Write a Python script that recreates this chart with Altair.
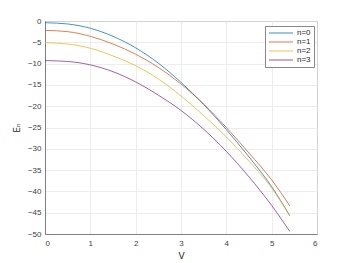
import altair as alt
import pandas as pd

V = [0.0, 0.5, 1.0, 1.5, 2.0, 2.5, 3.0, 3.5, 4.0, 4.5, 5.0, 5.4]
E0 = [-0.4, -0.7, -1.7, -3.6, -6.3, -9.9, -14.4, -19.6, -25.5, -31.9, -38.9, -45.7]
E1 = [-2.2, -2.5, -3.6, -5.4, -7.8, -10.9, -14.8, -19.5, -25.0, -31.0, -37.3, -43.4]
E2 = [-5.1, -5.4, -6.4, -8.2, -10.5, -13.6, -17.6, -22.2, -27.2, -32.9, -39.2, -45.8]
E3 = [-9.3, -9.5, -10.3, -11.9, -14.3, -17.4, -21.0, -25.4, -30.6, -36.6, -43.3, -49.4]
labels = ["n=0", "n=1", "n=2", "n=3"]
colors = ["#0072BD", "#D95319", "#EDB120", "#7E2F8E"]

rows = []
for lab, ser in zip(labels, [E0, E1, E2, E3]):
    for v, e in zip(V, ser):
        rows.append({"V": v, "E": e, "n": lab})
df = pd.DataFrame(rows)

chart = alt.Chart(df).mark_line(strokeWidth=0.75, interpolate="monotone").encode(
    x=alt.X("V:Q", scale=alt.Scale(domain=[0, 6], nice=False),
            axis=alt.Axis(values=[0, 1, 2, 3, 4, 5, 6], title="V", format="d")),
    y=alt.Y("E:Q", scale=alt.Scale(domain=[-50, 0], nice=False),
            axis=alt.Axis(values=list(range(-50, 1, 5)), title="Eₙ", format="d")),
    color=alt.Color("n:N", scale=alt.Scale(domain=labels, range=colors),
                    legend=alt.Legend(title=None, orient="none", legendX=220, legendY=5,
                                      symbolType="M-4,0H4", symbolSize=36,
                                      symbolOffset=9,
                                      symbolStrokeWidth=0.8, labelFontSize=8,
                                      labelFont="Liberation Sans", labelColor="#262626",
                                      padding=3, rowPadding=1, labelOffset=12,
                                      strokeColor="#888888", fillColor="white")),
).properties(
    width=272, height=213,
    padding={"left": 37, "top": 13, "right": 20, "bottom": 35},
    autosize=alt.AutoSizeParams(type="none"),
).configure_view(
    stroke="#808080", strokeWidth=1
).configure_axis(
    grid=True, gridColor="#E8E8E8", gridWidth=0.8,
    domainColor="#808080", domainWidth=1,
    tickSize=0, labelFont="Liberation Sans", labelFontSize=8, labelColor="#404040",
    titleFont="DejaVu Sans", titleFontSize=9, titleFontWeight="normal", titleColor="#262626",
).configure_axisX(
    labelPadding=5, titlePadding=4
).configure_axisY(
    labelPadding=4, titlePadding=6
)

chart.save("out.html", embed_options={"renderer": "svg", "actions": False})
